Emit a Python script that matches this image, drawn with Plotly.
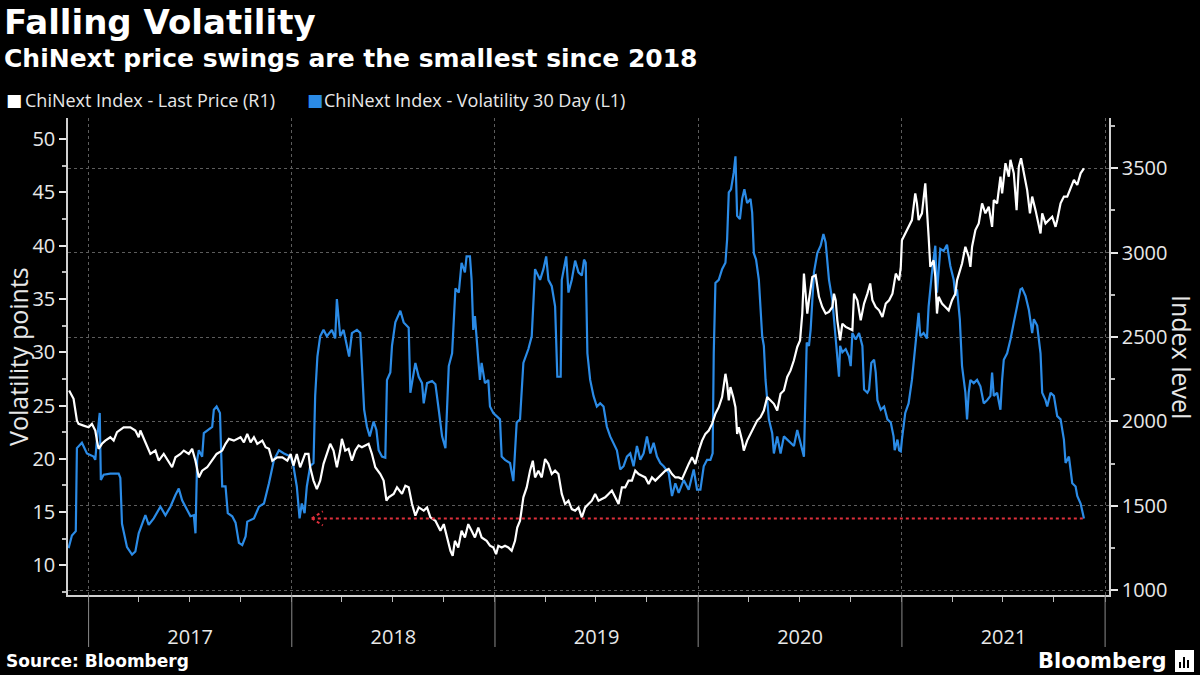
import plotly.graph_objects as go

# ---------------- data ----------------
vol_dates = [
"2016-11-26","2016-12-02","2016-12-09","2016-12-11","2016-12-20","2016-12-29","2017-01-10","2017-01-13","2017-01-16","2017-01-21",
"2017-01-23","2017-01-28","2017-02-09","2017-02-24","2017-02-27","2017-03-02","2017-03-11","2017-03-20","2017-03-26","2017-04-01",
"2017-04-13","2017-04-19","2017-04-28","2017-05-10","2017-05-19","2017-05-28","2017-06-06","2017-06-12","2017-06-18","2017-06-27",
"2017-07-03","2017-07-09","2017-07-12","2017-07-15","2017-07-18","2017-07-24","2017-07-27","2017-08-11","2017-08-14","2017-08-19",
"2017-08-25","2017-08-29","2017-09-04","2017-09-08","2017-09-16","2017-09-22","2017-09-28","2017-10-04","2017-10-10","2017-10-13",
"2017-10-25","2017-11-03","2017-11-12","2017-11-21","2017-11-30","2017-12-09","2017-12-18","2017-12-30","2018-01-04","2018-01-10",
"2018-01-15","2018-01-19","2018-01-24","2018-01-28","2018-02-03","2018-02-09","2018-02-12","2018-02-16","2018-02-21","2018-02-27",
"2018-03-05","2018-03-14","2018-03-20","2018-03-23","2018-03-29","2018-04-04","2018-04-10","2018-04-14","2018-04-19","2018-04-28",
"2018-05-04","2018-05-07","2018-05-11","2018-05-16","2018-05-21","2018-05-28","2018-06-02","2018-06-06","2018-06-12","2018-06-18",
"2018-06-21","2018-06-27","2018-06-30","2018-07-06","2018-07-15","2018-07-21","2018-07-30","2018-08-02","2018-08-11","2018-08-17",
"2018-08-23","2018-08-26","2018-09-01","2018-09-10","2018-09-16","2018-09-22","2018-09-28","2018-10-04","2018-10-07","2018-10-10",
"2018-10-16","2018-10-22","2018-10-28","2018-11-02","2018-11-08","2018-11-11","2018-11-17","2018-11-20","2018-11-23","2018-11-26",
"2018-12-02","2018-12-05","2018-12-08","2018-12-14","2018-12-20","2018-12-23","2018-12-29","2019-01-04","2019-01-10","2019-01-13",
"2019-01-19","2019-01-28","2019-02-03","2019-02-09","2019-02-15","2019-02-21","2019-03-02","2019-03-08","2019-03-14","2019-03-23",
"2019-03-29","2019-04-03","2019-04-07","2019-04-13","2019-04-19","2019-04-23","2019-04-29","2019-05-01","2019-05-09","2019-05-13",
"2019-05-19","2019-05-25","2019-05-31","2019-06-06","2019-06-10","2019-06-13","2019-06-16","2019-06-21","2019-06-27","2019-07-03",
"2019-07-09","2019-07-15","2019-07-21","2019-07-27","2019-08-02","2019-08-08","2019-08-14","2019-08-20","2019-08-26","2019-09-01",
"2019-09-07","2019-09-13","2019-09-19","2019-09-25","2019-10-01","2019-10-07","2019-10-13","2019-10-19","2019-10-25","2019-10-31",
"2019-11-09","2019-11-15","2019-11-21","2019-11-27","2019-12-06","2019-12-15","2019-12-24","2019-12-30","2020-01-05","2020-01-11",
"2020-01-17","2020-01-23","2020-01-27","2020-01-29","2020-02-01","2020-02-07","2020-02-13","2020-02-19","2020-02-22","2020-02-25",
"2020-02-29","2020-03-05","2020-03-08","2020-03-11","2020-03-16","2020-03-20","2020-03-24","2020-03-29","2020-04-04","2020-04-07",
"2020-04-10","2020-04-14","2020-04-19","2020-04-22","2020-04-25","2020-04-28","2020-05-01","2020-05-07","2020-05-13","2020-05-16",
"2020-05-22","2020-05-28","2020-06-03","2020-06-09","2020-06-15","2020-06-21","2020-06-27","2020-07-03","2020-07-09","2020-07-14",
"2020-07-18","2020-07-21","2020-07-27","2020-08-02","2020-08-08","2020-08-13","2020-08-17","2020-08-23","2020-08-29","2020-09-01",
"2020-09-07","2020-09-10","2020-09-12","2020-09-16","2020-09-22","2020-09-28","2020-10-01","2020-10-04","2020-10-10","2020-10-16",
"2020-10-22","2020-10-25","2020-10-31","2020-11-03","2020-11-07","2020-11-12","2020-11-15","2020-11-18","2020-11-24","2020-11-30",
"2020-12-06","2020-12-12","2020-12-17","2020-12-19","2020-12-24","2020-12-27","2020-12-30","2021-01-01","2021-01-07","2021-01-13",
"2021-01-19","2021-01-25","2021-01-31","2021-02-03","2021-02-09","2021-02-15","2021-02-18","2021-02-24","2021-03-02","2021-03-05",
"2021-03-11","2021-03-17","2021-03-23","2021-03-29","2021-04-04","2021-04-07","2021-04-10","2021-04-15","2021-04-19","2021-04-25",
"2021-04-28","2021-05-01","2021-05-04","2021-05-10","2021-05-16","2021-05-22","2021-05-28","2021-06-03","2021-06-09","2021-06-12",
"2021-06-15","2021-06-21","2021-06-27","2021-06-30","2021-07-03","2021-07-09","2021-07-15","2021-07-21","2021-07-27","2021-08-02",
"2021-08-05","2021-08-11","2021-08-17","2021-08-20","2021-08-23","2021-08-26","2021-09-01","2021-09-07","2021-09-10","2021-09-16",
"2021-09-19","2021-09-25","2021-10-01","2021-10-07","2021-10-13","2021-10-19","2021-10-22","2021-10-28","2021-11-03","2021-11-09",
"2021-11-12","2021-11-18","2021-11-24"]
vol_values = [
11.6,12.8,13.2,21.0,21.5,20.5,20.2,19.9,21.8,24.3,
18.0,18.5,18.6,18.6,18.2,13.9,11.7,11.0,11.3,13.0,
14.7,13.8,14.4,15.5,14.7,15.5,16.6,17.2,16.1,15.2,
14.6,14.7,13.0,19.9,20.8,20.2,22.4,23.0,24.6,24.9,
24.3,17.4,17.4,14.9,14.6,14.0,12.1,11.9,12.7,14.1,
14.4,15.5,15.8,17.7,19.9,20.8,20.5,20.2,19.3,17.4,
14.4,15.8,14.9,17.4,19.3,19.6,25.9,29.6,31.5,32.1,
31.5,32.1,31.3,35.0,31.5,32.1,30.6,29.6,31.8,32.1,
31.8,28.4,24.6,23.0,22.1,23.5,22.7,20.8,20.2,20.1,
27.4,28.1,30.6,32.8,33.9,32.8,32.3,26.2,29.0,27.7,
27.1,25.2,27.1,27.3,27.0,24.6,22.1,21.0,24.3,28.7,
29.9,36.0,35.6,38.4,37.5,39.0,39.0,36.8,32.1,33.4,
29.3,27.4,29.0,27.1,27.4,24.9,24.3,24.0,23.7,20.2,
19.9,19.6,17.9,23.4,23.7,29.0,30.3,31.5,37.8,36.8,
37.8,39.0,36.8,36.2,34.3,27.7,27.7,36.8,39.0,35.6,
36.8,38.6,37.5,37.2,38.7,38.4,29.9,27.4,25.9,24.9,
25.2,24.9,23.0,22.1,21.5,20.8,19.0,19.3,20.2,20.5,
19.3,21.2,19.9,20.5,22.1,20.5,21.5,20.2,19.6,19.3,
18.7,16.5,17.7,16.8,18.0,17.1,19.0,17.1,17.1,19.3,
19.9,19.9,20.5,29.9,36.5,36.8,37.8,38.4,40.6,45.0,
45.3,46.9,48.4,42.8,42.5,44.4,45.3,44.0,44.4,43.1,
39.3,38.7,36.8,34.3,31.5,30.6,27.4,23.7,22.4,20.5,
22.1,20.5,22.1,21.8,21.5,21.2,22.7,21.5,20.2,30.9,
30.6,32.1,37.5,39.3,40.0,41.1,40.3,36.8,34.9,33.1,
29.9,27.7,30.6,30.0,30.3,29.6,28.7,31.8,31.2,31.8,
30.6,26.5,26.2,26.5,29.0,29.3,28.1,25.5,24.6,24.9,
23.7,23.4,22.1,20.8,21.8,20.8,20.7,21.8,24.3,25.2,
27.4,30.3,33.7,31.5,31.8,31.3,34.3,37.5,40.0,35.6,
39.7,39.5,40.1,38.1,36.8,35.3,35.9,33.1,28.7,26.2,
23.7,26.2,27.4,27.1,27.4,26.8,25.2,25.5,25.9,28.1,
25.9,26.2,24.6,27.4,29.3,29.9,31.2,32.8,34.3,35.9,
36.0,35.3,34.0,32.8,31.8,33.1,32.5,29.9,26.2,25.5,
24.9,26.2,25.9,24.0,23.7,21.8,19.6,20.2,17.7,17.4,
16.5,15.8,14.4]

price_dates = [
"2016-11-27","2016-12-05","2016-12-11","2016-12-14","2016-12-23","2017-01-01","2017-01-07","2017-01-13","2017-01-16","2017-01-19",
"2017-01-25","2017-01-31","2017-02-09","2017-02-15","2017-02-21","2017-03-05","2017-03-17","2017-03-26","2017-04-01","2017-04-04",
"2017-04-13","2017-04-22","2017-05-01","2017-05-07","2017-05-16","2017-05-25","2017-05-31","2017-06-06","2017-06-15","2017-06-21",
"2017-06-30","2017-07-06","2017-07-12","2017-07-18","2017-07-24","2017-08-02","2017-08-11","2017-08-19","2017-08-29","2017-09-04",
"2017-09-10","2017-09-19","2017-10-01","2017-10-07","2017-10-13","2017-10-19","2017-10-25","2017-10-31","2017-11-09","2017-11-15",
"2017-11-21","2017-11-27","2017-12-06","2017-12-15","2017-12-24","2017-12-30","2018-01-04","2018-01-10","2018-01-16","2018-01-25",
"2018-01-31","2018-02-03","2018-02-09","2018-02-15","2018-02-21","2018-02-27","2018-03-05","2018-03-11","2018-03-17","2018-03-23",
"2018-03-29","2018-04-01","2018-04-07","2018-04-13","2018-04-19","2018-04-25","2018-05-01","2018-05-07","2018-05-13","2018-05-19",
"2018-05-25","2018-05-31","2018-06-09","2018-06-15","2018-06-20","2018-06-24","2018-07-03","2018-07-09","2018-07-18","2018-07-24",
"2018-07-30","2018-08-05","2018-08-11","2018-08-17","2018-08-26","2018-09-01","2018-09-07","2018-09-16","2018-09-25","2018-10-01",
"2018-10-07","2018-10-13","2018-10-17","2018-10-21","2018-10-27","2018-11-02","2018-11-08","2018-11-14","2018-11-20","2018-11-26",
"2018-12-02","2018-12-08","2018-12-17","2018-12-23","2018-12-29","2019-01-03","2019-01-07","2019-01-13","2019-01-19","2019-01-25",
"2019-01-31","2019-02-06","2019-02-10","2019-02-15","2019-02-21","2019-02-27","2019-03-05","2019-03-10","2019-03-14","2019-03-20",
"2019-03-26","2019-04-01","2019-04-07","2019-04-13","2019-04-19","2019-04-25","2019-05-01","2019-05-07","2019-05-13","2019-05-19",
"2019-05-25","2019-05-31","2019-06-06","2019-06-12","2019-06-18","2019-06-24","2019-06-30","2019-07-06","2019-07-12","2019-07-18",
"2019-07-24","2019-07-30","2019-08-05","2019-08-11","2019-08-17","2019-08-23","2019-08-29","2019-09-04","2019-09-10","2019-09-16",
"2019-09-22","2019-09-28","2019-10-04","2019-10-10","2019-10-16","2019-10-22","2019-10-28","2019-11-03","2019-11-09","2019-11-15",
"2019-11-21","2019-11-27","2019-12-03","2019-12-09","2019-12-15","2019-12-21","2019-12-27","2020-01-02","2020-01-08","2020-01-14",
"2020-01-20","2020-01-26","2020-02-01","2020-02-07","2020-02-13","2020-02-19","2020-02-22","2020-02-25","2020-02-28","2020-03-04",
"2020-03-08","2020-03-11","2020-03-14","2020-03-20","2020-03-23","2020-03-29","2020-04-04","2020-04-10","2020-04-16","2020-04-22",
"2020-04-28","2020-05-04","2020-05-10","2020-05-16","2020-05-22","2020-05-28","2020-06-03","2020-06-09","2020-06-15","2020-06-21",
"2020-06-27","2020-07-02","2020-07-06","2020-07-09","2020-07-12","2020-07-15","2020-07-18","2020-07-24","2020-07-30","2020-08-02",
"2020-08-05","2020-08-11","2020-08-17","2020-08-23","2020-08-29","2020-09-01","2020-09-04","2020-09-07","2020-09-12","2020-09-16",
"2020-09-22","2020-09-28","2020-10-04","2020-10-07","2020-10-13","2020-10-19","2020-10-25","2020-10-31","2020-11-05","2020-11-09",
"2020-11-15","2020-11-21","2020-11-27","2020-12-03","2020-12-09","2020-12-15","2020-12-21","2020-12-27","2020-12-30","2021-01-01",
"2021-01-07","2021-01-13","2021-01-19","2021-01-25","2021-01-28","2021-01-31","2021-02-06","2021-02-12","2021-02-15","2021-02-18",
"2021-02-21","2021-02-27","2021-03-02","2021-03-05","2021-03-08","2021-03-14","2021-03-20","2021-03-26","2021-04-01","2021-04-07",
"2021-04-10","2021-04-15","2021-04-19","2021-04-25","2021-05-01","2021-05-04","2021-05-07","2021-05-13","2021-05-19","2021-05-25",
"2021-05-31","2021-06-06","2021-06-12","2021-06-15","2021-06-21","2021-06-27","2021-06-30","2021-07-06","2021-07-12","2021-07-15",
"2021-07-21","2021-07-26","2021-07-30","2021-08-03","2021-08-08","2021-08-14","2021-08-19","2021-08-23","2021-08-29","2021-09-04",
"2021-09-07","2021-09-10","2021-09-16","2021-09-22","2021-09-28","2021-10-04","2021-10-07","2021-10-13","2021-10-19","2021-10-25",
"2021-10-31","2021-11-06","2021-11-12","2021-11-18","2021-11-24"]
price_values = [
2183,2134,2005,1985,1975,1965,1985,1946,1886,1837,
1867,1886,1906,1886,1936,1965,1965,1946,1906,1946,
1876,1807,1827,1767,1807,1758,1728,1787,1807,1827,
1807,1837,1767,1668,1708,1728,1767,1807,1827,1867,
1896,1886,1906,1876,1926,1876,1906,1867,1886,1847,
1837,1767,1787,1787,1767,1807,1738,1807,1728,1807,
1807,1728,1649,1599,1649,1748,1807,1867,1827,1728,
1827,1896,1827,1837,1767,1827,1857,1847,1857,1867,
1807,1728,1688,1649,1530,1550,1570,1609,1570,1619,
1609,1510,1441,1490,1471,1490,1431,1411,1352,1391,
1312,1233,1203,1292,1253,1352,1312,1391,1352,1312,
1371,1312,1292,1263,1253,1213,1263,1253,1263,1253,
1233,1292,1371,1411,1550,1609,1708,1767,1668,1708,
1668,1777,1748,1688,1708,1688,1570,1510,1530,1480,
1471,1490,1431,1490,1510,1530,1570,1530,1540,1550,
1570,1590,1550,1510,1609,1609,1649,1649,1708,1688,
1678,1668,1629,1668,1649,1668,1688,1708,1718,1688,
1668,1668,1658,1708,1748,1787,1748,1827,1886,1926,
1946,1985,2045,2084,2144,2282,2223,2124,2203,2144,
2084,1926,1965,1886,1827,1886,1926,1965,2005,2025,
2064,2144,2124,2104,2064,2164,2183,2263,2302,2362,
2441,2480,2639,2876,2757,2639,2718,2856,2866,2797,
2738,2678,2639,2649,2678,2757,2718,2599,2480,2579,
2560,2550,2540,2757,2718,2599,2698,2757,2817,2718,
2678,2658,2619,2698,2718,2757,2876,2836,2916,3074,
3114,3153,3193,3351,3292,3193,3233,3411,3272,3094,
2916,2955,2856,2639,2738,2698,2678,2658,2718,2757,
2836,2896,2936,3035,2975,2916,3035,3134,3173,3292,
3233,3272,3153,3312,3292,3450,3351,3530,3450,3550,
3470,3252,3510,3559,3470,3371,3233,3332,3252,3153,
3114,3233,3173,3193,3213,3153,3193,3292,3332,3332,
3381,3431,3401,3470,3500]

year_ticks = ["2017-01-01", "2018-01-01", "2019-01-01", "2020-01-01", "2021-01-01", "2022-01-01"]
left_ticks = [10, 15, 20, 25, 30, 35, 40, 45, 50]
right_ticks = [1000, 1500, 2000, 2500, 3000, 3500]
arrow_from_date = "2018-02-06"

# ---------------- styling ----------------
W, H = 1200, 675
L, R, T, B = 68, 1109, 118, 595
BLUE = "#2b8be6"
WHITE = "#ffffff"
RED = "#e0303c"
TXT = "#e8e8e8"
GRID = "#5c5c5c"
AXIS = "#d0d0d0"
FONT = "Open Sans"
BOLD = "DejaVu Sans"

def px(x):
    return (x - L) / (R - L)

def py(y):
    return (B - y) / (B - T)

fig = go.Figure()
fig.add_trace(go.Scatter(x=price_dates, y=price_values, yaxis="y2", mode="lines",
                         line=dict(color=WHITE, width=2.2), name="ChiNext Index - Last Price (R1)",
                         showlegend=False))
fig.add_trace(go.Scatter(x=vol_dates, y=vol_values, yaxis="y", mode="lines",
                         line=dict(color=BLUE, width=2.2), name="ChiNext Index - Volatility 30 Day (L1)",
                         showlegend=False))

shapes = []
# year separators below the axis
for d in year_ticks:
    shapes.append(dict(type="line", xref="x", yref="paper", x0=d, x1=d,
                       y0=0, y1=py(647), line=dict(color="#8a8a8a", width=1), layer="above"))
# red dotted arrow from last volatility reading back to early 2018
last_d, last_v = vol_dates[-1], vol_values[-1]
shapes.append(dict(type="line", xref="x", yref="y", x0=arrow_from_date, x1=last_d,
                   y0=last_v, y1=last_v, line=dict(color=RED, width=2, dash="dot")))
for dy in (7, -7):
    shapes.append(dict(type="line", xref="x", yref="y", xsizemode="pixel", ysizemode="pixel",
                       xanchor=arrow_from_date, yanchor=last_v, x0=0, x1=11, y0=0, y1=dy,
                       line=dict(color=RED, width=2, dash="dot")))
# Bloomberg logo glyph
shapes.append(dict(type="rect", xref="paper", yref="paper", x0=px(1175), x1=px(1194),
                   y0=py(672), y1=py(650), fillcolor="#ffffff", line=dict(width=0)))
for bx, top in ((1180, 662), (1184, 657), (1188, 660)):
    shapes.append(dict(type="line", xref="paper", yref="paper", x0=px(bx), x1=px(bx),
                       y0=py(668), y1=py(top), line=dict(color="#000000", width=2)))

annotations = [
    dict(text="<b>Falling Volatility</b>", x=px(2), y=py(22), xanchor="left", yanchor="middle",
         font=dict(family=BOLD, size=34, color="#ffffff")),
    dict(text="<b>ChiNext price swings are the smallest since 2018</b>", x=px(2), y=py(58),
         xanchor="left", yanchor="middle", font=dict(family=BOLD, size=25, color="#ffffff")),
    dict(text="■", x=px(4), y=py(100), xanchor="left", yanchor="middle",
         font=dict(family="DejaVu Sans", size=17, color=WHITE)),
    dict(text="ChiNext Index - Last Price (R1)", x=px(23), y=py(100), xanchor="left", yanchor="middle",
         font=dict(family=FONT, size=18, color=TXT)),
    dict(text="■", x=px(305), y=py(100), xanchor="left", yanchor="middle",
         font=dict(family="DejaVu Sans", size=17, color=BLUE)),
    dict(text="ChiNext Index - Volatility 30 Day (L1)", x=px(322), y=py(100), xanchor="left",
         yanchor="middle", font=dict(family=FONT, size=18, color=TXT)),
    dict(text="Volatility points", x=px(18), y=py(357), textangle=-90, xanchor="center",
         yanchor="middle", font=dict(family=FONT, size=25, color=TXT)),
    dict(text="Index level", x=px(1182), y=py(357), textangle=90, xanchor="center", yanchor="middle",
         font=dict(family=FONT, size=25, color=TXT)),
    dict(text="<b>Source: Bloomberg</b>", x=px(4), y=py(661), xanchor="left", yanchor="middle",
         font=dict(family=BOLD, size=17, color="#ffffff")),
    dict(text="<b>Bloomberg</b>", x=px(1169), y=py(661), xanchor="right", yanchor="middle",
         font=dict(family=BOLD, size=21, color="#ffffff")),
]
for a in annotations:
    a.update(xref="paper", yref="paper", showarrow=False)

fig.update_layout(
    width=W, height=H, autosize=False,
    paper_bgcolor="#000000", plot_bgcolor="#000000",
    margin=dict(l=L, r=W - R, t=T, b=H - B, pad=0),
    showlegend=False,
    font=dict(family=FONT, color=TXT),
    shapes=shapes, annotations=annotations,
    xaxis=dict(
        type="date", range=["2016-11-25", "2022-01-08"],
        showline=True, linecolor=AXIS, linewidth=1.5,
        ticks="outside", tick0=year_ticks[0], dtick="M12", ticklen=5, tickcolor="#8a8a8a",
        ticklabelmode="period", tickformat="%Y", ticklabelstandoff=18,
        tickfont=dict(family=FONT, size=20, color=TXT),
        showgrid=True, gridcolor=GRID, griddash="dot", gridwidth=1,
        zeroline=False, automargin=False,
        minor=dict(ticks="outside", dtick="M3", tick0=year_ticks[0], ticklen=5,
                   tickcolor="#bdbdbd", showgrid=False),
    ),
    yaxis=dict(
        range=[7.21, 51.99], tickvals=left_ticks, ticks="outside", ticklen=7, tickwidth=2,
        tickcolor=TXT, showline=True, linecolor=AXIS, linewidth=1.5,
        showgrid=False, zeroline=False, automargin=False,
        tickfont=dict(family=FONT, size=20, color=TXT),
        minor=dict(ticks="outside", tick0=7.5, dtick=5, ticklen=4, tickcolor="#bdbdbd"),
    ),
    yaxis2=dict(
        overlaying="y", side="right", range=[971, 3798], tickvals=right_ticks,
        ticks="outside", ticklen=7, tickwidth=2, tickcolor=TXT,
        showline=True, linecolor=AXIS, linewidth=1.5,
        showgrid=True, gridcolor=GRID, griddash="dot", gridwidth=1,
        zeroline=False, automargin=False,
        tickfont=dict(family=FONT, size=20, color=TXT),
        minor=dict(ticks="outside", tick0=750, dtick=500, ticklen=4, tickcolor="#bdbdbd"),
    ),
)

fig.write_html("out.html", config={"displayModeBar": False},
               post_script="document.body.style.margin='0';document.body.style.padding='0';")
